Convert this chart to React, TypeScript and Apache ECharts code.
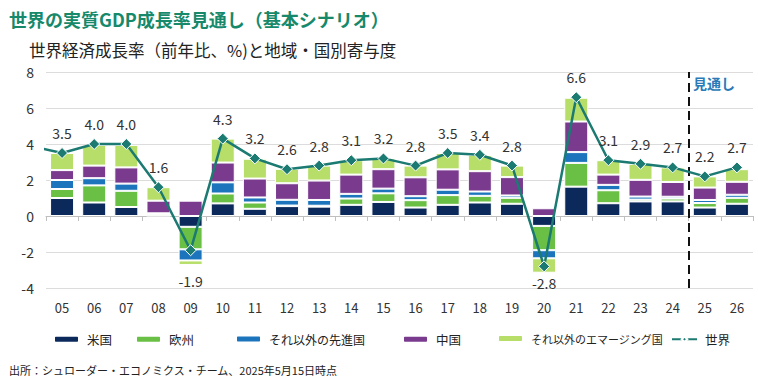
import React, { useEffect, useRef } from "react";
import * as echarts from "echarts";

const categories = ["05","06","07","08","09","10","11","12","13","14","15","16","17","18","19","20","21","22","23","24","25","26"];
const usValues = [1.0,0.75,0.5,0.02,-0.6,0.7,0.4,0.55,0.52,0.62,0.78,0.47,0.62,0.75,0.68,-0.55,1.63,0.71,0.81,0.81,0.47,0.68];
const europeValues = [0.5,0.95,0.9,0.08,-1.25,0.55,0.35,0.03,0.05,0.35,0.48,0.41,0.54,0.37,0.33,-1.35,1.32,0.72,0.1,0.16,0.25,0.33];
const otherDevValues = [0.5,0.4,0.4,0.05,-0.62,0.62,0.28,0.32,0.32,0.26,0.26,0.22,0.3,0.24,0.13,-0.45,0.6,0.3,0.17,0.1,0.17,0.17];
const chinaValues = [0.55,0.7,0.9,0.7,0.85,1.1,1.05,0.92,1.08,1.07,1.08,1.05,1.13,1.13,1.02,0.43,1.7,0.57,0.93,0.82,0.69,0.72];
const otherEmValues = [0.95,1.15,1.25,0.75,-0.25,1.33,1.1,0.8,0.83,0.8,0.6,0.65,0.91,0.9,0.64,-0.8,1.32,0.8,0.89,0.81,0.62,0.7];
const worldValues = [3.5,4.0,4.0,1.6,-1.9,4.3,3.2,2.6,2.8,3.1,3.2,2.8,3.5,3.4,2.8,-2.8,6.6,3.1,2.9,2.7,2.2,2.7];
const worldPrev = 3.9; // 04 value, line enters from left edge
const forecastStartIndex = 20; // 25

const seriesNames = ["米国","欧州","それ以外の先進国","中国","それ以外のエマージング国"];
const seriesColors = ["#0b2a5b","#6abf45","#1c75bc","#7a3b8f","#b6de68"];
const lineColor = "#1b7a71";
const legendLefts = [48,130,230,397,492,666];
const legendFontSizes = [12.5,12.5,12,12.5,11,12.5];

const FONT = "'Noto Sans CJK JP', 'Noto Sans', sans-serif";

export default function App() {
  const ref = useRef<HTMLDivElement>(null);
  useEffect(() => {
    if (!ref.current) return;
    const chart = echarts.init(ref.current, null, { renderer: "svg" });
    const barData = [usValues, europeValues, otherDevValues, chinaValues, otherEmValues];
    const lineData: any[] = [
      { value: [-1, worldPrev], symbol: "none", label: { show: false } },
      ...worldValues.map((v, i) => {
        const item: any = { value: [i, v] };
        if (v < 0) {
          item.label = { position: "bottom", distance: i === 4 ? 18 : 4 };
        }
        return item;
      }),
    ];
    const allNames = [...seriesNames, "世界"];
    const option: any = {
      animation: false,
      textStyle: { fontFamily: FONT },
      title: [
        {
          text: "世界の実質GDP成長率見通し（基本シナリオ）",
          left: 4, top: 5,
          textStyle: { fontSize: 18, fontWeight: "bold", color: "#16896b", fontFamily: FONT },
        },
        {
          text: "世界経済成長率（前年比、%)と地域・国別寄与度",
          left: 24, top: 37,
          textStyle: { fontSize: 16.5, fontWeight: "normal", color: "#222", fontFamily: FONT },
        },
        {
          text: "出所：シュローダー・エコノミクス・チーム、2025年5月15日時点",
          left: 4, top: 359,
          textStyle: { fontSize: 11, fontWeight: "normal", color: "#222", fontFamily: FONT },
        },
      ],
      legend: allNames.map((n, i) => ({
        data: [n],
        left: legendLefts[i],
        top: 328,
        itemWidth: 25,
        itemHeight: 7,
        itemGap: 0,
        selectedMode: false,
        textStyle: { fontSize: legendFontSizes[i], color: "#222", fontFamily: FONT, padding: [0, 0, 0, 3] },
      })),
      grid: { left: 46, right: 5, top: 72, bottom: 90, containLabel: false },
      xAxis: [
        {
          type: "category",
          data: categories,
          position: "bottom",
          axisLine: { show: true, onZero: true, lineStyle: { color: "#bfbfbf" } },
          axisTick: { show: true, length: 5, lineStyle: { color: "#bfbfbf" } },
          axisLabel: { show: false },
        },
        {
          type: "value",
          min: -0.5,
          max: 21.5,
          show: false,
        },
        {
          type: "category",
          data: categories,
          position: "bottom",
          axisLine: { show: false, onZero: false },
          axisTick: { show: false },
          axisLabel: { show: true, margin: 13, fontSize: 13, color: "#333", fontFamily: FONT },
        },
      ],
      yAxis: {
        type: "value",
        min: -4,
        max: 8,
        interval: 2,
        axisLine: { show: false },
        axisTick: { show: false },
        axisLabel: { fontSize: 14, color: "#333", margin: 12, fontFamily: FONT },
        splitLine: { lineStyle: { color: "#dcdcdc" } },
      },
      series: [
        ...seriesNames.map((n, k) => ({
          name: n,
          type: "bar",
          stack: "total",
          xAxisIndex: 0,
          barWidth: 24,
          data: barData[k],
          itemStyle: { color: seriesColors[k], borderColor: "#fff", borderWidth: 1 },
        })),
        {
          name: "世界",
          type: "line",
          xAxisIndex: 1,
          data: lineData,
          clip: true,
          z: 5,
          color: lineColor,
          lineStyle: { color: lineColor, width: 2.5 },
          symbol: "diamond",
          symbolSize: 11,
          itemStyle: { color: lineColor, borderColor: "#fff", borderWidth: 1 },
          label: {
            show: true,
            position: "top",
            distance: 7,
            fontSize: 14,
            color: "#333",
            fontFamily: FONT,
            formatter: (p: any) => Number(p.value[1]).toFixed(1),
          },
          markLine: {
            silent: true,
            symbol: "none",
            label: { show: false },
            lineStyle: { color: "#111", width: 2, type: [9, 5] },
            data: [{ xAxis: forecastStartIndex - 0.5 }],
          },
        },
      ],
      graphic: [
        {
          type: "text",
          left: 693,
          top: 76,
          style: { text: "見通し", fontSize: 14, fontWeight: "bold", fill: "#2a7ab8", fontFamily: FONT },
        },
      ],
    };
    chart.setOption(option);
    return () => chart.dispose();
  }, []);
  return <div ref={ref} style={{ width: 758, height: 378, position: "absolute", left: 0, top: 0 }} />;
}
